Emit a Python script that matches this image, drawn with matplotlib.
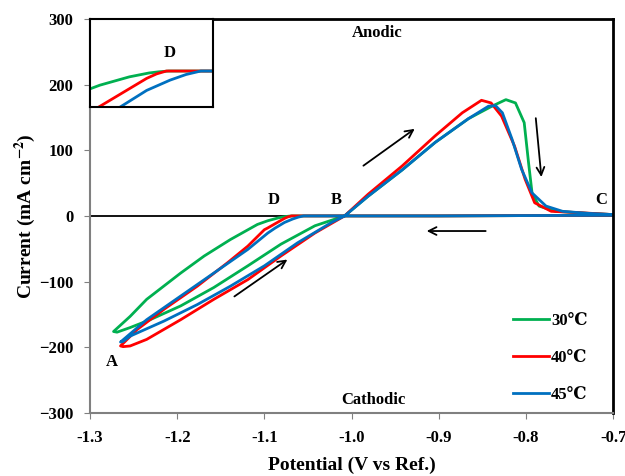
import matplotlib
matplotlib.use("Agg")
import matplotlib.pyplot as plt

# cyclic voltammograms: C -> D -> A -> B -> peak -> C
V_30 = [-0.70, -0.80, -0.90, -1.00, -1.05, -1.068, -1.072, -1.076, -1.084, -1.096, -1.108, -1.139, -1.169, -1.196,
        -1.235, -1.254, -1.273,
        -1.269, -1.254, -1.231, -1.196, -1.158, -1.119, -1.081, -1.042, -1.008, -0.981, -0.942, -0.904, -0.866,
        -0.839, -0.823, -0.812, -0.802, -0.797, -0.793, -0.785, -0.766, -0.73, -0.70]
I_30 = [1, 0.5, 0, 0, 0, 0, -0.4, -1, -3, -7.3, -13, -36, -61, -87,
        -127, -153, -176,
        -177, -170, -158, -137, -109, -76, -43, -15, 0, 30, 70, 112, 148,
        167, 177, 172, 142, 81, 35, 15, 7, 4, 2]

V_40 = [-0.70, -0.80, -0.90, -1.00, -1.05, -1.069, -1.073, -1.077, -1.0965, -1.10, -1.119, -1.142, -1.177, -1.215,
        -1.246, -1.265,
        -1.262, -1.254, -1.235, -1.196, -1.158, -1.119, -1.081, -1.042, -1.008, -0.981, -0.942, -0.904, -0.873,
        -0.851, -0.840, -0.828, -0.813, -0.801, -0.790, -0.771, -0.739, -0.70]
I_40 = [1, 0.5, 0, 0, 0, 0, -1.5, -3.8, -18.6, -21, -46, -71, -107, -142,
        -173, -198,
        -199, -198, -188, -158, -127, -97, -61, -26, 0, 33, 76, 122, 157,
        176, 172, 152, 106, 56, 20, 7, 5, 2]

V_45 = [-0.70, -0.80, -0.90, -1.00, -1.05, -1.055, -1.061, -1.0675, -1.077, -1.0878, -1.096, -1.119, -1.158, -1.196,
        -1.235, -1.265,
        -1.262, -1.254, -1.215, -1.177, -1.139, -1.10, -1.062, -1.023, -1.008, -0.981, -0.942, -0.904, -0.866,
        -0.843, -0.835, -0.827, -0.816, -0.805, -0.793, -0.777, -0.758, -0.73, -0.70]
I_45 = [1, 0.5, 0, 0, 0, 0, -1.8, -4.7, -10, -18.6, -26, -51, -87, -122,
        -158, -192,
        -191, -183, -160, -135, -107, -76, -41, -10, 0, 30, 70, 112, 148,
        167, 168, 157, 117, 71, 35, 15, 7, 4, 2]

labels = ["30\u2103", "40\u2103", "45\u2103"]
colors = ["#00B050", "#FF0000", "#0070C0"]

x_ticks = [-1.3, -1.2, -1.1, -1.0, -0.9, -0.8, -0.7]
x_ticklabels = ["-1.3", "-1.2", "-1.1", "-1.0", "-0.9", "-0.8", "-0.7"]
y_ticks = [-300, -200, -100, 0, 100, 200, 300]

# point labels and scan direction arrows (start, end)
points = {"A": (-1.275, -222), "D": (-1.089, 24), "B": (-1.017, 24), "C": (-0.714, 24)}
arrows = [((-0.989, 74), (-0.925, 135)),
          ((-0.789, 153), (-0.782, 55)),
          ((-0.843, -23), (-0.917, -23)),
          ((-1.137, -125), (-1.071, -64))]

serif = ["Liberation Serif", "DejaVu Serif"]
plt.rcParams["font.family"] = serif
plt.rcParams["font.weight"] = "bold"
plt.rcParams["mathtext.fontset"] = "stix"

fig = plt.figure(figsize=(6.25, 4.76), dpi=100)
ax = fig.add_axes([0.144, 0.1324, 0.837, 0.828])

series = [(V_30, I_30), (V_40, I_40), (V_45, I_45)]
for (v, i), lab, c in zip(series, labels, colors):
    ax.plot(v, i, color=c, lw=2, label=lab)

ax.axhline(0, color="black", lw=1.3, zorder=1)

ax.set_xlim(-1.3, -0.7)
ax.set_ylim(-300, 300)
ax.set_xticks(x_ticks)
ax.set_xticklabels(x_ticklabels)
ax.set_yticks(y_ticks)
ax.tick_params(direction="out", length=4, color="#808080", labelsize=12, pad=8)
for lbl in ax.get_xticklabels() + ax.get_yticklabels():
    lbl.set_fontweight("bold")
for s in ["left", "bottom"]:
    ax.spines[s].set_color("#808080")
    ax.spines[s].set_linewidth(1.5)
for s in ["top", "right"]:
    ax.spines[s].set_color("black")
    ax.spines[s].set_linewidth(2)

ax.set_xlabel("Potential (V vs Ref.)", fontsize=14, fontweight="bold", labelpad=8)
ax.set_ylabel(r"Current (mA cm$^{\mathbf{-2}}$)", fontsize=14, fontweight="bold", labelpad=1)

for name, (px, py) in points.items():
    ax.text(px, py, name, fontsize=12, fontweight="bold", ha="center", va="center")
ax.text(-0.971, 278, "Anodic", fontsize=12, fontweight="bold", ha="center", va="center")
ax.text(-0.975, -280, "Cathodic", fontsize=12, fontweight="bold", ha="center", va="center")

for (x0, y0), (x1, y1) in arrows:
    ax.annotate("", xy=(x1, y1), xytext=(x0, y0),
                arrowprops=dict(arrowstyle="->", color="black", lw=1.3, mutation_scale=14))

leg = ax.legend(loc="lower right", bbox_to_anchor=(0.98, -0.012), frameon=False,
                handlelength=2.2, labelspacing=1.25, handletextpad=0.1,
                prop={"family": serif, "weight": "bold", "size": 12})

# inset: close-up of point D
ins = fig.add_axes([0.144, 0.775, 0.197, 0.185])
for (v, i), c in zip(series, colors):
    ins.plot(v, i, color=c, lw=2)
ins.set_xlim(-1.10, -1.05)
ins.set_ylim(-18.6, 26.8)
ins.set_xticks([])
ins.set_yticks([])
for s in ins.spines.values():
    s.set_color("black")
    s.set_linewidth(1.5)
ins.text(0.645, 0.61, "D", transform=ins.transAxes, fontsize=12, fontweight="bold",
         ha="center", va="center")

fig.savefig("out.png", dpi=100)
